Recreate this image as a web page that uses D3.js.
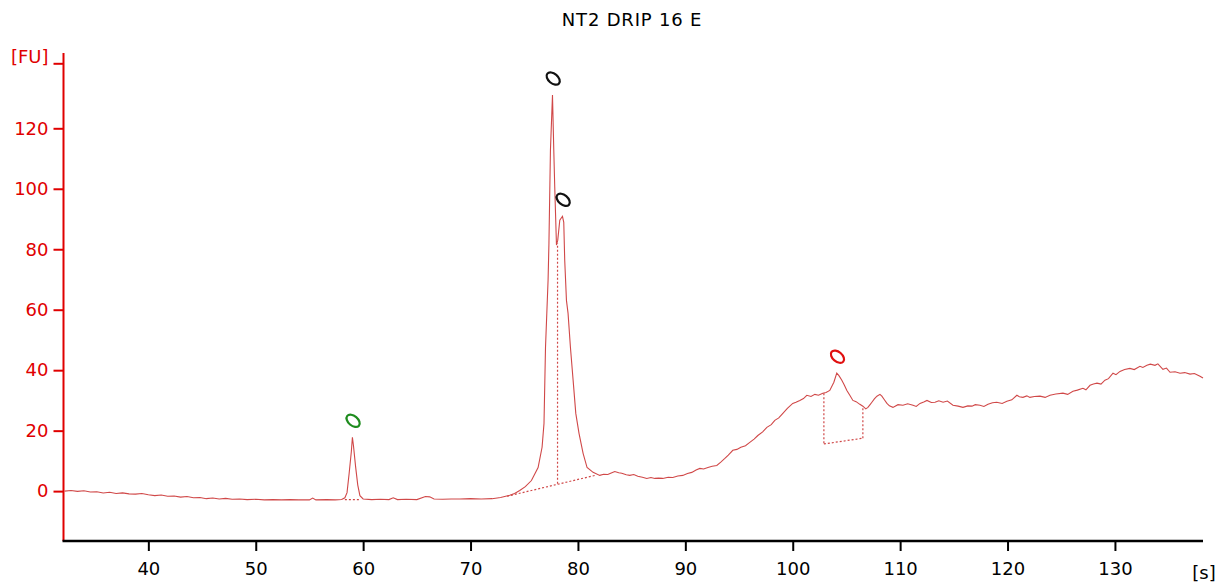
<!DOCTYPE html>
<html>
<head>
<meta charset="utf-8">
<script src="https://cdn.jsdelivr.net/npm/d3@7"></script>
<style>
  html, body { margin: 0; padding: 0; background: #fff; }
  svg { display: block; }
  text { font-family: "DejaVu Sans", Verdana, sans-serif; }
</style>
</head>
<body>
<svg id="chart" width="1221" height="587"></svg>
<script>
// ---- data ----
const title = "NT2 DRIP 16 E";
const xTicks = [40, 50, 60, 70, 80, 90, 100, 110, 120, 130];
const yTicks = [0, 20, 40, 60, 80, 100, 120];
const xUnit = "[s]";
const yUnit = "[FU]";

const time = [32.2,32.8,33.4,34.0,34.6,35.2,35.8,36.4,37.0,37.6,38.2,38.8,39.4,40.0,40.6,41.2,41.8,42.4,43.0,43.6,44.2,44.8,45.4,46.0,46.6,47.2,47.8,48.5,49.2,50.0,50.8,51.6,52.4,53.2,54.0,55.0,55.3,55.6,56.6,57.4,58.0,58.3,58.5,58.7,58.9,59.0,59.1,59.3,59.5,59.7,60.0,60.8,61.6,62.4,62.8,63.2,64.0,65.0,65.8,66.2,66.6,67.4,68.2,69.0,70.0,71.0,72.0,72.8,73.65,74.1,74.58,75.1,75.67,76.29,76.66,76.84,76.98,77.22,77.3,77.44,77.63,77.75,77.84,78.0,78.12,78.31,78.56,78.68,78.77,78.93,79.08,79.3,79.55,79.8,80.1,80.48,80.85,81.41,
  82.03,82.4,82.78,83.1,83.43,83.8,84.08,84.5,84.83,85.2,85.57,86.0,86.41,86.8,87.16,87.5,87.9,88.4,88.83,89.3,89.76,90.2,90.6,91.0,91.35,91.7,92.1,92.5,92.93,93.3,93.68,94.0,94.42,94.8,95.17,95.6,96.0,96.4,96.75,97.2,97.59,98.0,98.33,98.7,99.08,99.5,100.0,100.3,100.66,101.0,101.31,101.7,102.06,102.4,102.8,103.1,103.45,103.83,104.1,104.3,104.57,104.8,105.04,105.3,105.6,105.9,106.25,106.53,106.8,107.0,107.2,107.37,107.6,107.84,108.12,108.3,108.5,108.77,109.0,109.33,109.8,110.26,110.7,111.2,111.5,111.85,112.2,112.5,112.9,113.25,113.6,114.0,114.4,114.92,115.4,115.85,116.3,116.69,117.0,117.43,117.8,118.18,118.6,119.0,119.5,119.94,120.4,120.87,121.1,121.43,121.8,122.08,122.5,123.02,123.5,123.95,124.5,125.16,125.6,126.09,126.5,127.02,127.3,127.68,128.0,128.33,128.7,129.07,129.4,129.82,130.1,130.47,130.9,131.4,131.8,132.33,132.6,132.98,133.3,133.73,134.0,134.47,134.8,135.13,135.6,136.06,136.5,136.99,137.4,137.92,138.2];
const fu = [0.0,0.2,-0.1,0.1,-0.3,-0.2,-0.6,-0.4,-0.8,-0.6,-0.9,-1.0,-0.8,-1.2,-1.5,-1.3,-1.7,-1.6,-2.0,-1.8,-2.2,-2.1,-2.5,-2.3,-2.6,-2.4,-2.7,-2.6,-2.8,-2.7,-2.9,-2.8,-2.9,-2.8,-2.9,-2.9,-2.3,-2.9,-2.8,-2.9,-2.8,-2.2,-0.5,6.0,13.0,17.8,15.0,8.0,2.0,-1.5,-2.6,-2.8,-2.7,-2.8,-2.2,-2.8,-2.7,-2.8,-1.8,-1.9,-2.6,-2.7,-2.6,-2.6,-2.5,-2.6,-2.5,-2.1,-1.4,-0.8,0.2,1.5,3.5,7.8,14.5,22.4,47.6,69.8,82.0,112.8,131.0,112.8,100.6,81.4,83.0,89.6,90.9,88.9,76.3,63.1,58.8,47.6,36.7,25.7,19.1,12.5,7.8,6.2,
  5.2,5.6,5.5,6.0,6.5,6.1,5.9,5.4,5.2,5.5,4.9,4.6,4.2,4.5,4.2,4.3,4.2,4.6,4.5,5.0,5.2,5.8,6.2,7.0,7.5,7.3,7.8,8.2,8.5,9.6,10.8,11.9,13.5,13.8,14.5,15.0,16.1,17.2,18.4,19.6,21.1,22.0,23.4,24.2,25.7,27.4,29.0,29.4,30.0,30.6,31.7,31.3,32.0,31.7,32.4,32.6,33.3,36.0,39.0,38.2,36.7,35.1,33.3,31.8,30.0,29.6,28.7,28.1,27.2,27.7,28.6,29.4,30.5,31.4,32.0,31.4,30.4,29.0,28.2,27.7,28.6,28.4,28.9,28.4,28.0,29.0,29.5,30.0,29.3,29.4,29.9,29.4,29.8,28.4,28.1,27.7,28.2,28.1,28.6,28.4,28.0,28.7,29.2,29.4,29.0,29.7,30.2,31.7,31.2,31.0,31.5,31.0,31.3,31.4,31.0,31.7,32.1,32.4,32.0,33.0,33.4,34.0,33.5,35.0,35.4,35.7,35.4,36.7,37.2,39.0,38.5,39.6,40.2,40.6,40.2,41.3,40.9,41.6,42.0,41.6,42.1,40.3,40.7,39.3,39.5,39.0,39.2,38.7,38.9,38.0,37.4];

// peak markers: time, value, colour
const peakTimes = [59.0, 77.63, 78.56, 104.1];
const peakValues = [17.8, 131.0, 90.9, 39.0];
const peakColors = ["#1e8c1e", "#111111", "#111111", "#e01010"];

// integration baselines (dashed): [t1, v1, t2, v2]
const baselines = [
  [58.3, -2.8, 59.7, -2.8],
  [73.4, -1.7, 81.6, 5.2],
  [78.1, 2.4, 78.1, 82.0],
  [102.9, 32.4, 102.9, 15.6],
  [102.9, 15.6, 106.53, 17.5],
  [106.53, 17.5, 106.53, 28.1]
];

// ---- chart ----
const svg = d3.select("#chart");
const mLeft = 63.5, mRight = 1203, mTop = 63.3, mBottom = 541;
const x = d3.scaleLinear().domain([32.1, 138.2]).range([mLeft, mRight]);
const y = d3.scaleLinear().domain([-16.5, 141.5]).range([mBottom, mTop]);

const axisRed = "#e00000";
const traceColor = "#d04848";

// title
svg.append("text").attr("x", 632).attr("y", 26).attr("text-anchor", "middle")
  .attr("font-size", 18).attr("letter-spacing", 0.8).attr("fill", "#000").text(title);

// trace
const pts = time.map((t, i) => [t, fu[i]]);
svg.append("path").datum(pts)
  .attr("fill", "none").attr("stroke", traceColor).attr("stroke-width", 1.1)
  .attr("d", d3.line().x(d => x(d[0])).y(d => y(d[1])));

// baselines
svg.append("g").selectAll("line").data(baselines).join("line")
  .attr("x1", d => x(d[0])).attr("y1", d => y(d[1]))
  .attr("x2", d => x(d[2])).attr("y2", d => y(d[3]))
  .attr("stroke", traceColor).attr("stroke-width", 1.2)
  .attr("stroke-dasharray", "2,2");

// peak markers
svg.append("g").selectAll("ellipse").data(peakTimes).join("ellipse")
  .attr("transform", (d, i) => `translate(${x(d) + 0.7},${y(peakValues[i]) - 16.5}) rotate(40)`)
  .attr("rx", 7.6).attr("ry", 4.8)
  .attr("fill", "none").attr("stroke", (d, i) => peakColors[i]).attr("stroke-width", 2.2);

// y axis
const gy = svg.append("g").attr("transform", `translate(${mLeft},0)`);
gy.append("line").attr("x1", 0).attr("x2", 0).attr("y1", 53).attr("y2", mBottom)
  .attr("stroke", axisRed).attr("stroke-width", 2);
const yAxis = d3.axisLeft(y).tickValues(yTicks.concat([141.5])).tickSize(10).tickPadding(5)
  .tickFormat(d => d === 141.5 ? yUnit : d);
gy.call(yAxis);
gy.select(".domain").remove();
gy.selectAll(".tick line").attr("stroke", axisRed).attr("stroke-width", 2);
gy.selectAll(".tick text").attr("fill", axisRed).attr("font-size", 18)
  .attr("font-family", "DejaVu Sans, sans-serif");
gy.selectAll(".tick").filter(d => d === 141.5).select("text").attr("dy", "-0.05em");

// x axis
const gx = svg.append("g").attr("transform", `translate(0,${mBottom})`);
gx.append("line").attr("x1", mLeft - 1).attr("x2", mRight).attr("y1", 0).attr("y2", 0)
  .attr("stroke", "#000").attr("stroke-width", 2.5);
const xAxis = d3.axisBottom(x).tickValues(xTicks).tickSize(10).tickPadding(11).tickFormat(d3.format("d"));
gx.call(xAxis);
gx.select(".domain").remove();
gx.selectAll(".tick line").attr("stroke", "#000").attr("stroke-width", 2);
gx.selectAll(".tick text").attr("fill", "#000").attr("font-size", 18)
  .attr("font-family", "DejaVu Sans, sans-serif");
gx.append("text").attr("x", mRight + 1).attr("y", 38).attr("text-anchor", "middle")
  .attr("font-size", 18).attr("fill", "#000").text(xUnit);
</script>
</body>
</html>
